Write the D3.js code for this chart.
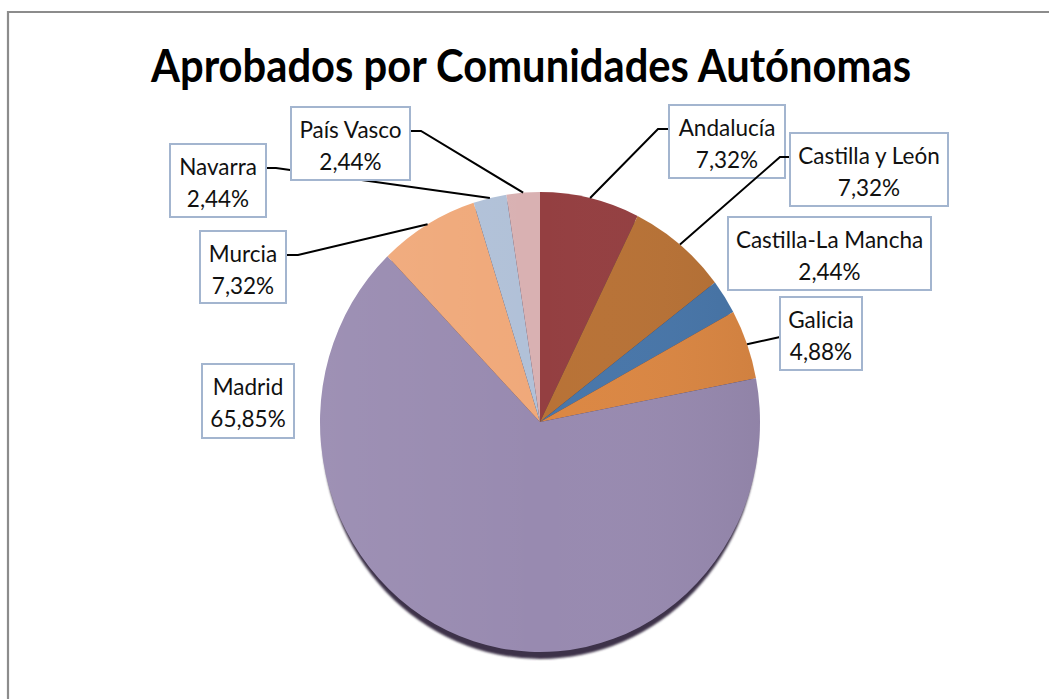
<!DOCTYPE html>
<html>
<head>
<meta charset="utf-8">
<script src="https://cdn.jsdelivr.net/npm/d3@7"></script>
<style>
html,body{margin:0;padding:0;background:#fff;}
svg{display:block;}
</style>
</head>
<body>
<svg id="chart" width="1049" height="699"></svg>
<script>
// ---- data ----
const categories = ["Andalucía","Castilla y León","Castilla-La Mancha","Galicia","Madrid","Murcia","Navarra","País Vasco"];
const values = [3, 3, 1, 2, 27, 3, 1, 1];
const colors = ["#943f41","#b87236","#4876a9","#db8743","#988ab0","#f0a97a","#b1c1d8","#d9b1b2"];
const title = "Aprobados por Comunidades Autónomas";

// ---- layout (label boxes) ----
const boxes = [
  {x:669,y:105,w:116,h:73, ax:669, ay:129, kx:658, leader:true},
  {x:790,y:133,w:158,h:73, ax:790, ay:157, kx:780, leader:true},
  {x:728,y:217,w:203,h:73, leader:false},
  {x:780,y:297,w:82, h:73, ax:780, ay:337, kx:780, leader:true},
  {x:202,y:364,w:92, h:74, leader:false},
  {x:200,y:231,w:86, h:72, ax:286, ay:255, kx:298, leader:true},
  {x:170,y:144,w:96, h:73, ax:266, ay:168, kx:276, leader:true},
  {x:291,y:107,w:119,h:73, ax:410, ay:131, kx:421, leader:true}
];

const svg = d3.select("#chart");
const W = 1049, H = 699;
const cx = 540, cy = 422, rx = 220, ry = 230;

// frame
svg.append("path")
  .attr("d", `M8,${H} L8,12 L${W},12`)
  .attr("fill","none").attr("stroke","#8c8c8c").attr("stroke-width",2.2);

// title
const t = svg.append("text")
  .attr("x", 531).attr("y", 82)
  .attr("text-anchor","middle")
  .attr("font-family","Lato, 'Open Sans', sans-serif")
  .attr("font-weight","bold")
  .attr("font-size", 45)
  .attr("fill","#000")
  .text(title);
t.attr("textLength", 760).attr("lengthAdjust","spacingAndGlyphs");

const defs = svg.append("defs");
const grad = defs.append("linearGradient").attr("id","shade")
  .attr("x1","0%").attr("x2","100%").attr("y1","0%").attr("y2","0%");
grad.append("stop").attr("offset","0%").attr("stop-color","#fff").attr("stop-opacity",0.06);
grad.append("stop").attr("offset","50%").attr("stop-color","#fff").attr("stop-opacity",0);
grad.append("stop").attr("offset","100%").attr("stop-color","#000").attr("stop-opacity",0.05);
const blur = defs.append("filter").attr("id","blur").attr("x","-10%").attr("y","-10%").attr("width","120%").attr("height","120%");
blur.append("feGaussianBlur").attr("stdDeviation",1.2);

const pie = d3.pie().sort(null).value(d => d)(values);
const arc = d3.arc().innerRadius(0).outerRadius(rx);

// shadow
svg.append("ellipse")
  .attr("cx", cx).attr("cy", cy + 7).attr("rx", rx - 2).attr("ry", ry)
  .attr("fill", "#3e3349").attr("filter","url(#blur)");

const g = svg.append("g").attr("transform", `translate(${cx},${cy}) scale(1,${ry/rx})`);
g.selectAll("path.slice").data(pie).join("path")
  .attr("class","slice")
  .attr("d", arc)
  .attr("fill", (d,i) => colors[i]);
g.append("circle").attr("r", rx).attr("fill","url(#shade)");

// labels
const total = d3.sum(values);
const fmt = v => (v/total*100).toFixed(2).replace(".", ",") + "%";

pie.forEach((d, i) => {
  const b = boxes[i];
  const mid = (d.startAngle + d.endAngle) / 2;
  const px = cx + rx * Math.sin(mid);
  const py = cy - ry * Math.cos(mid);
  if (b.leader) {
    svg.append("polyline")
      .attr("points", `${b.ax},${b.ay} ${b.kx},${b.ay} ${px},${py}`)
      .attr("fill","none").attr("stroke","#000").attr("stroke-width",2);
  }
  svg.append("rect")
    .attr("x", b.x).attr("y", b.y).attr("width", b.w).attr("height", b.h)
    .attr("fill","#fff").attr("stroke","#a3b5cf").attr("stroke-width",2);
  const tx = svg.append("text")
    .attr("text-anchor","middle")
    .attr("font-family","Lato, 'Open Sans', sans-serif")
    .attr("font-size", 22.5)
    .attr("fill","#111");
  tx.append("tspan").attr("x", b.x + b.w/2).attr("y", b.y + 31).text(categories[i]);
  tx.append("tspan").attr("x", b.x + b.w/2).attr("y", b.y + 63).text(fmt(values[i]));
});
</script>
</body>
</html>
